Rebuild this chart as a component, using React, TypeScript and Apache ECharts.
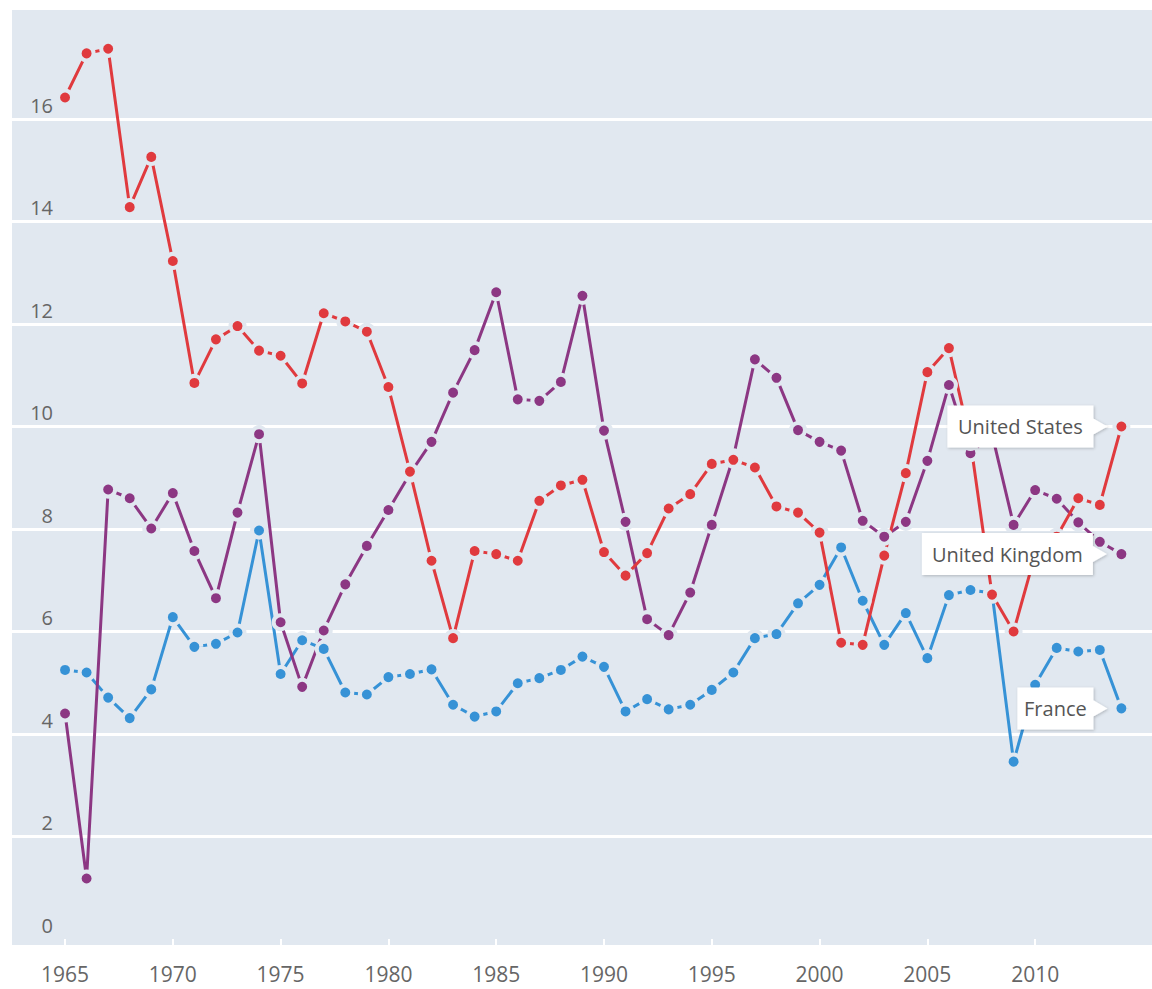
import React, { useEffect, useRef } from 'react';
import * as echarts from 'echarts';

const years = [
  1965, 1966, 1967, 1968, 1969, 1970, 1971, 1972, 1973, 1974,
  1975, 1976, 1977, 1978, 1979, 1980, 1981, 1982, 1983, 1984,
  1985, 1986, 1987, 1988, 1989, 1990, 1991, 1992, 1993, 1994,
  1995, 1996, 1997, 1998, 1999, 2000, 2001, 2002, 2003, 2004,
  2005, 2006, 2007, 2008, 2009, 2010, 2011, 2012, 2013, 2014,
];

const unitedStates = [
  16.42, 17.28, 17.37, 14.28, 15.26, 13.23, 10.85, 11.7, 11.96, 11.48,
  11.38, 10.84, 12.21, 12.05, 11.85, 10.77, 9.12, 7.38, 5.87, 7.57,
  7.51, 7.38, 8.55, 8.85, 8.96, 7.55, 7.09, 7.53, 8.4, 8.68,
  9.27, 9.35, 9.2, 8.44, 8.32, 7.93, 5.78, 5.74, 7.48, 9.09,
  11.06, 11.53, 9.7, 6.72, 6.0, 7.5, 7.85, 8.6, 8.47, 10.0,
];

const unitedKingdom = [
  4.4, 1.18, 8.77, 8.6, 8.01, 8.7, 7.57, 6.65, 8.32, 9.85,
  6.18, 4.92, 6.02, 6.92, 7.67, 8.37, 9.08, 9.7, 10.66, 11.49,
  12.62, 10.53, 10.5, 10.87, 12.55, 9.92, 8.14, 6.24, 5.93, 6.76,
  8.08, 9.4, 11.31, 10.95, 9.93, 9.7, 9.53, 8.16, 7.85, 8.14,
  9.33, 10.81, 9.48, 9.85, 8.08, 8.76, 8.59, 8.13, 7.75, 7.51,
];

const france = [
  5.25, 5.2, 4.71, 4.31, 4.87, 6.28, 5.7, 5.76, 5.98, 7.97,
  5.17, 5.83, 5.66, 4.81, 4.77, 5.11, 5.17, 5.26, 4.57, 4.34,
  4.44, 4.99, 5.09, 5.25, 5.51, 5.31, 4.44, 4.68, 4.48, 4.57,
  4.86, 5.2, 5.87, 5.95, 6.55, 6.91, 7.64, 6.6, 5.74, 6.36,
  5.48, 6.71, 6.81, 6.75, 3.46, 4.96, 5.68, 5.61, 5.64, 4.5,
];

const xTickLabels = [1965, 1970, 1975, 1980, 1985, 1990, 1995, 2000, 2005, 2010];

const BG = '#e1e8f0';
const FONT = "'Open Sans', 'Noto Sans', sans-serif";

function calloutPath(w: number) {
  return `path://M0,0 L${w},0 L${w},13 L${w + 14},21 L${w},29 L${w},42 L0,42 Z`;
}

function makeSeries(name: string, values: number[], color: string, boxW: number, offset: number) {
  const data = years.map((y, i) => [y, values[i]]);
  const last = data[data.length - 1];
  return {
    name,
    type: 'line',
    data,
    symbol: 'circle',
    symbolSize: 14,
    lineStyle: { color, width: 3 },
    itemStyle: { color, borderColor: BG, borderWidth: 4 },
    emphasis: { disabled: true },
    markPoint: {
      symbol: calloutPath(boxW),
      symbolKeepAspect: false,
      symbolSize: [boxW + 14, 42],
      symbolOffset: [offset, 0],
      itemStyle: {
        color: '#ffffff',
        shadowColor: 'rgba(0,0,0,0.22)',
        shadowBlur: 3,
        shadowOffsetX: 1,
        shadowOffsetY: 1,
      },
      label: {
        show: true,
        position: 'inside',
        offset: [-7, 0],
        formatter: name,
        color: '#555555',
        fontSize: 20,
        fontFamily: FONT,
      },
      data: [{ coord: last, name }],
    },
  };
}

export default function App() {
  const ref = useRef<HTMLDivElement>(null);
  useEffect(() => {
    if (!ref.current) return;
    const chart = echarts.init(ref.current, null, { renderer: 'svg' });
    const splitColors = ['rgba(0,0,0,0)', '#fff', '#fff', '#fff', '#fff', '#fff', '#fff', '#fff', '#fff', 'rgba(0,0,0,0)'];
    chart.setOption({
      animation: false,
      backgroundColor: '#ffffff',
      textStyle: { fontFamily: FONT },
      graphic: [
        {
          type: 'rect',
          z: -10,
          silent: true,
          shape: { x: 12, y: 10, width: 1140, height: 935 },
          style: { fill: BG },
        },
      ],
      grid: { left: 12, right: 0, top: 16.5, bottom: 50, containLabel: false },
      xAxis: {
        type: 'value',
        min: 1962.54,
        max: 2015.42,
        axisLine: { show: false },
        splitLine: { show: false },
        axisTick: {
          show: true,
          customValues: xTickLabels,
          length: 6,
          lineStyle: { color: '#ffffff', width: 2 },
        },
        axisLabel: {
          customValues: xTickLabels,
          color: '#666666',
          fontSize: 21,
          margin: 24,
          fontFamily: FONT,
          formatter: (v: number) => String(v),
        },
      },
      yAxis: {
        type: 'value',
        min: 0,
        max: 18,
        interval: 2,
        axisLine: { show: false },
        axisTick: { show: false },
        splitLine: { show: true, lineStyle: { color: splitColors, width: 3 } },
        axisLabel: {
          inside: true,
          showMaxLabel: false,
          align: 'right',
          color: '#666666',
          fontSize: 20,
          margin: 41,
          verticalAlign: 'bottom',
          padding: [0, 0, 4, 0],
          fontFamily: FONT,
        },
      },
      series: [
        makeSeries('France', france, '#3692d6', 76, -59),
        makeSeries('United Kingdom', unitedKingdom, '#8c3783', 171, -107),
        makeSeries('United States', unitedStates, '#e03a3e', 146, -94),
      ],
    });
    return () => chart.dispose();
  }, []);
  return <div ref={ref} style={{ position: 'fixed', left: 0, top: 0, width: 1152, height: 989 }} />;
}
